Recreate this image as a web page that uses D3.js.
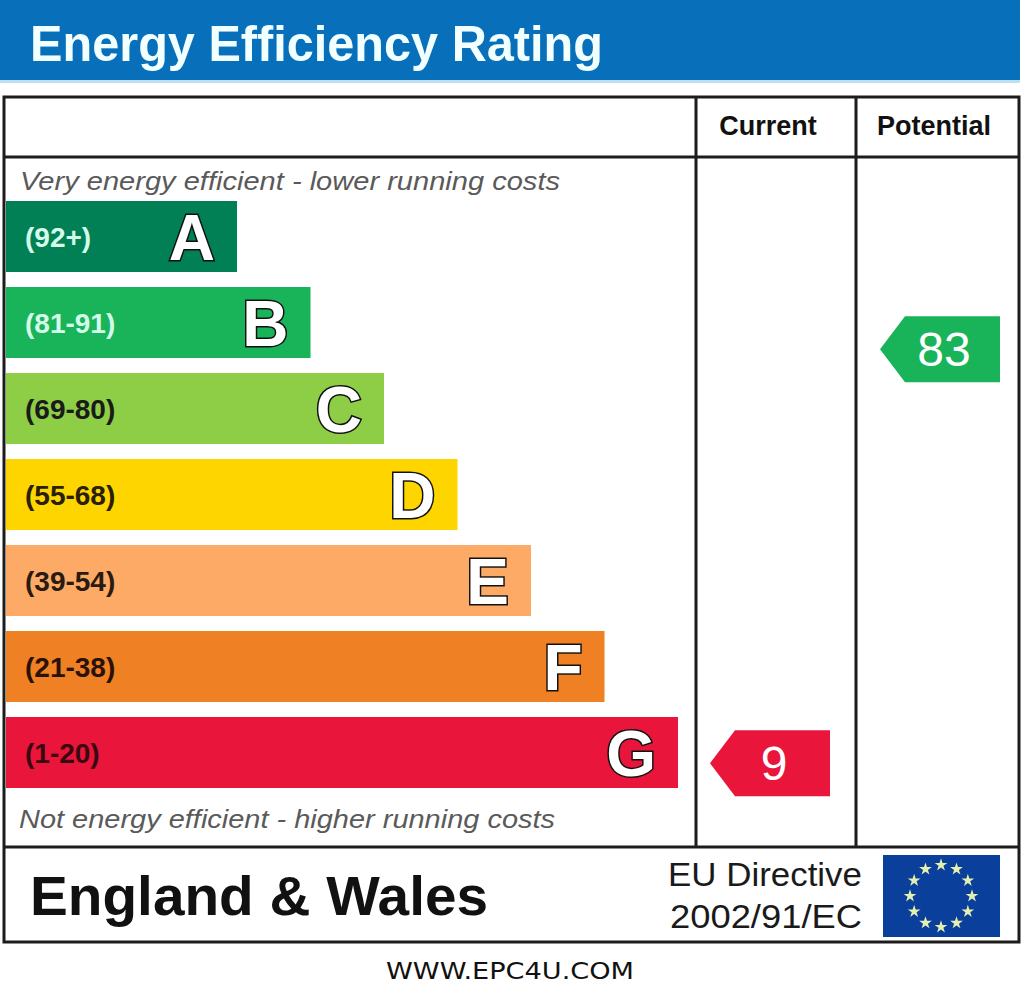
<!DOCTYPE html>
<html>
<head>
  <meta charset="UTF-8">
  <style>
    body { margin: 0; background: #fff; }
    svg { display: block; font-family: 'Liberation Sans', Arial, sans-serif; }
  </style>
  <script src="https://d3js.org/d3.v7.min.js"></script>
</head>
<body>
<div id="chart"></div>
<script>
// rating bands, best to worst
const bands = ['A', 'B', 'C', 'D', 'E', 'F', 'G'];
const ranges = ['(92+)', '(81-91)', '(69-80)', '(55-68)', '(39-54)', '(21-38)', '(1-20)'];
const bandColors = ['#008054', '#19b459', '#8dce46', '#ffd500', '#fcaa65', '#ef8023', '#e9153b'];
const rangeTextColors = ['#d4fbe9', '#d4fbe9', '#1a1a1a', '#2a2000', '#2a1a10', '#2a1208', '#3a0810'];

// scores shown in the two columns
const columns = ['Current', 'Potential'];
const scores = [9, 83];
const scoreBands = ['G', 'B'];

const W = 1024, H = 993;
const svg = d3.select('#chart').append('svg')
  .attr('width', W).attr('height', H);

// title band
svg.append('rect').attr('x', 0).attr('y', 0).attr('width', 1020).attr('height', 80).attr('fill', '#0870bb');
svg.append('rect').attr('x', 0).attr('y', 80).attr('width', 1020).attr('height', 3).attr('fill', '#bfe0f2');
svg.append('text')
  .attr('x', 30).attr('y', 61)
  .attr('font-size', 50).attr('font-weight', 'bold')
  .attr('fill', '#f2ffff')
  .attr('textLength', 573).attr('lengthAdjust', 'spacingAndGlyphs')
  .text('Energy Efficiency Rating');

// scales
const y = d3.scaleBand().domain(bands).range([201, 788]).paddingInner(15 / 86);
const barEnd = d3.scaleLinear().domain([0, bands.length - 1]).range([237, 678]);
const colX = d3.scaleBand().domain(columns).range([696, 1016]);
const scoreY = d3.scaleLinear().domain([1, 100]).range([808, 254]);

// frame and grid lines
const frame = svg.append('g').attr('stroke', '#1c1c1c').attr('stroke-width', 3).attr('fill', 'none');
frame.append('rect').attr('x', 4).attr('y', 97).attr('width', 1015).attr('height', 845);
frame.append('line').attr('x1', 4).attr('x2', 1019).attr('y1', 157).attr('y2', 157);
frame.append('line').attr('x1', 4).attr('x2', 1019).attr('y1', 847).attr('y2', 847);
columns.forEach(c => {
  frame.append('line').attr('x1', colX(c)).attr('x2', colX(c)).attr('y1', 97).attr('y2', 847);
});

// column headers
svg.selectAll('.col-head').data(columns).join('text')
  .attr('class', 'col-head')
  .attr('x', (d, i) => colX(d) + colX.bandwidth() / 2 - 8 + i * 6)
  .attr('y', 135)
  .attr('text-anchor', 'middle')
  .attr('font-size', 27).attr('font-weight', 'bold').attr('fill', '#111')
  .text(d => d);

// top and bottom captions
svg.append('text')
  .attr('x', 20).attr('y', 190)
  .attr('font-size', 26).attr('font-style', 'italic').attr('fill', '#5a5a5a')
  .attr('textLength', 540).attr('lengthAdjust', 'spacingAndGlyphs')
  .text('Very energy efficient - lower running costs');
svg.append('text')
  .attr('x', 19).attr('y', 828)
  .attr('font-size', 26).attr('font-style', 'italic').attr('fill', '#5a5a5a')
  .attr('textLength', 536).attr('lengthAdjust', 'spacingAndGlyphs')
  .text('Not energy efficient - higher running costs');

// rating bars
const bar = svg.selectAll('.band').data(bands).join('g').attr('class', 'band');
bar.append('rect')
  .attr('x', 6)
  .attr('y', d => y(d))
  .attr('width', (d, i) => barEnd(i) - 6)
  .attr('height', y.bandwidth())
  .attr('fill', (d, i) => bandColors[i]);
bar.append('text')
  .attr('x', 25)
  .attr('y', d => y(d) + y.bandwidth() / 2 + 10)
  .attr('font-size', 28).attr('font-weight', 'bold')
  .attr('fill', (d, i) => rangeTextColors[i])
  .text((d, i) => ranges[i]);
bar.append('text')
  .attr('x', (d, i) => barEnd(i) - 22)
  .attr('y', d => y(d) + y.bandwidth() / 2 + 23)
  .attr('text-anchor', 'end')
  .attr('font-size', 64).attr('font-weight', 'bold')
  .attr('fill', '#fff').attr('stroke', '#111').attr('stroke-width', 3)
  .attr('paint-order', 'stroke')
  .text(d => d);

// score arrows
const arrowH = 66, arrowW = 120, tip = 25;
const arrow = svg.selectAll('.score').data(columns).join('g')
  .attr('class', 'score')
  .attr('transform', (d, i) => {
    const cx = colX(d) + colX.bandwidth() / 2 - 6 + i * 10;
    return `translate(${cx - arrowW / 2},${scoreY(scores[i]) - arrowH / 2})`;
  });
arrow.append('path')
  .attr('d', `M0,${arrowH / 2}L${tip},0H${arrowW}V${arrowH}H${tip}Z`)
  .attr('fill', (d, i) => bandColors[bands.indexOf(scoreBands[i])]);
arrow.append('text')
  .attr('x', arrowW / 2 + 4)
  .attr('y', arrowH / 2 + 17)
  .attr('text-anchor', 'middle')
  .attr('font-size', 48).attr('fill', '#fff')
  .text((d, i) => scores[i]);

// footer
svg.append('text')
  .attr('x', 30).attr('y', 915)
  .attr('font-size', 55).attr('font-weight', 'bold').attr('fill', '#111')
  .attr('textLength', 458).attr('lengthAdjust', 'spacingAndGlyphs')
  .text('England & Wales');
svg.append('text')
  .attr('x', 668).attr('y', 886)
  .attr('font-size', 33).attr('fill', '#1a1a1a')
  .attr('textLength', 194).attr('lengthAdjust', 'spacingAndGlyphs')
  .text('EU Directive');
svg.append('text')
  .attr('x', 670).attr('y', 928)
  .attr('font-size', 33).attr('fill', '#1a1a1a')
  .attr('textLength', 192).attr('lengthAdjust', 'spacingAndGlyphs')
  .text('2002/91/EC');

// EU flag
const flag = svg.append('g').attr('transform', 'translate(883,855)');
flag.append('rect').attr('width', 117).attr('height', 82).attr('fill', '#0b3f9c');
const starAngles = d3.range(12).map(i => i * Math.PI / 6);
const star = d3.symbol().type(d3.symbolStar).size(50);
flag.selectAll('path').data(starAngles).join('path')
  .attr('d', star)
  .attr('transform', a => `translate(${58 + 31 * Math.sin(a)},${41 - 31 * Math.cos(a)})`)
  .attr('fill', '#e4f0b0');

svg.append('text')
  .attr('x', 510).attr('y', 979)
  .attr('text-anchor', 'middle')
  .attr('font-family', "'DejaVu Sans', sans-serif")
  .attr('font-size', 23).attr('fill', '#111')
  .attr('textLength', 248).attr('lengthAdjust', 'spacingAndGlyphs')
  .text('WWW.EPC4U.COM');
</script>
</body>
</html>
